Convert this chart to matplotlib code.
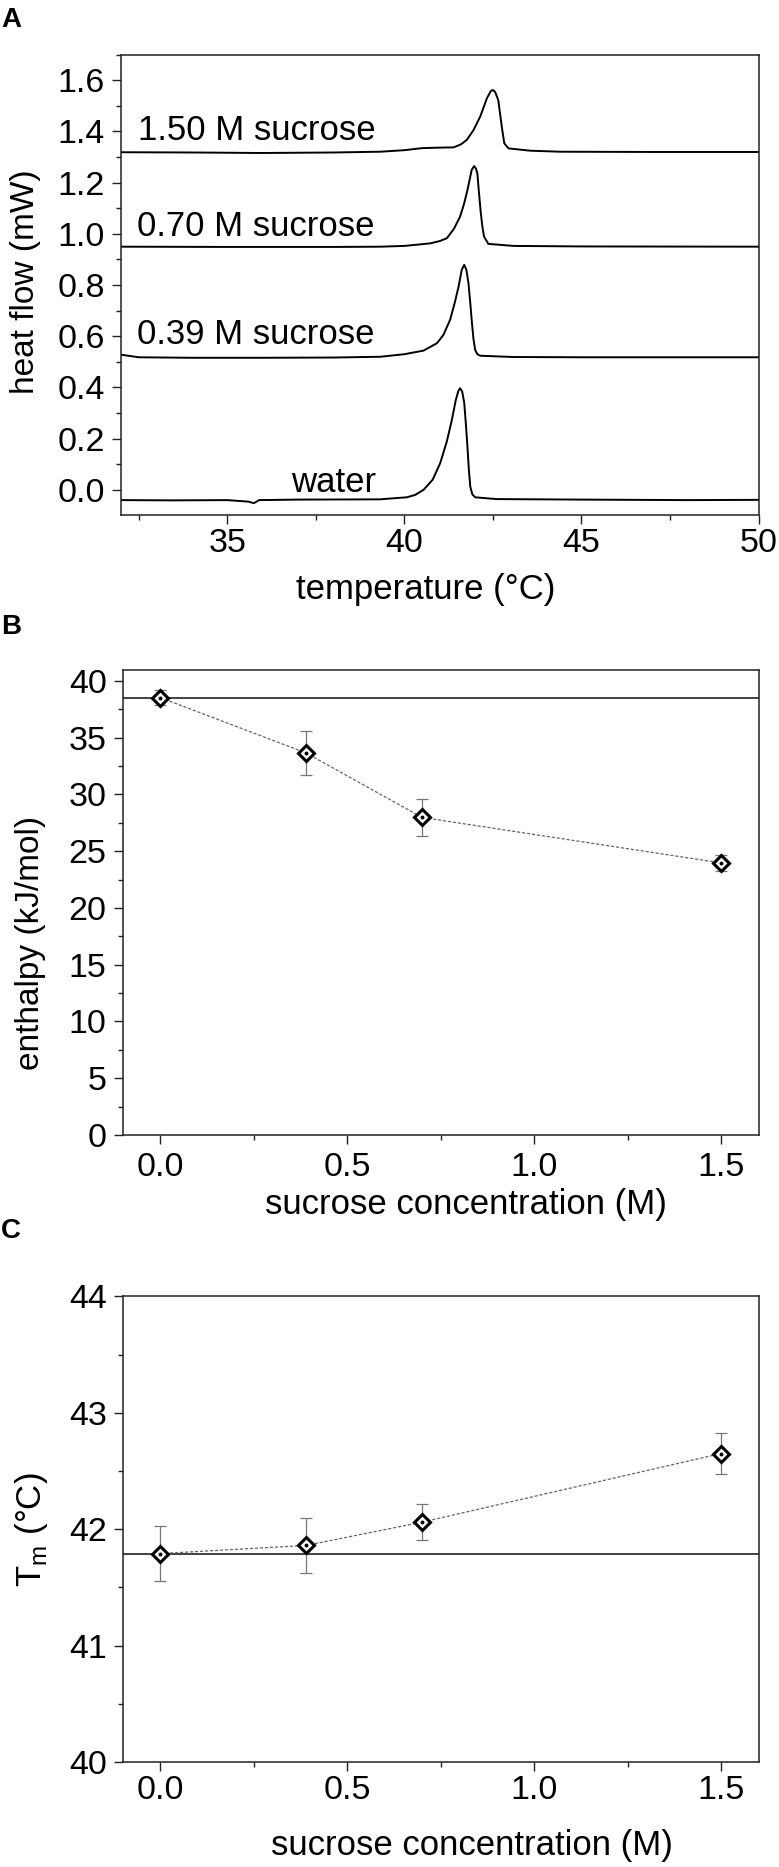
import numpy as np
import matplotlib
matplotlib.use("Agg")
import matplotlib.pyplot as plt
from matplotlib.ticker import MultipleLocator

plt.rcParams['font.family'] = ['Liberation Sans', 'DejaVu Sans']
plt.rcParams['mathtext.fontset'] = 'custom'
plt.rcParams['mathtext.rm'] = 'Liberation Sans'

# ---- panel A: DSC traces (temperature in C, heat flow in mW)
water_T = [32.0, 33.5, 35.0, 35.6, 35.75, 35.9, 37.0, 39.3, 40.07, 40.3, 40.54, 40.8, 41.01, 41.2,
           41.34, 41.45, 41.52, 41.57, 41.63, 41.69, 41.74, 41.78, 41.82, 41.86, 41.92, 42.0,
           42.6, 45.0, 48.0, 50.0]
water_H = [-0.040, -0.041, -0.040, -0.046, -0.052, -0.040, -0.038, -0.037, -0.029, -0.020, 0.000,
           0.040, 0.104, 0.190, 0.273, 0.350, 0.385, 0.397, 0.385, 0.340, 0.250, 0.169, 0.080,
           0.013, -0.018, -0.029, -0.036, -0.038, -0.040, -0.039]

suc039_T = [32.0, 32.5, 34.0, 36.0, 38.0, 39.32, 40.0, 40.54, 40.92, 41.1, 41.29, 41.42, 41.53,
            41.62, 41.69, 41.75, 41.81, 41.86, 41.90, 41.95, 42.0, 42.06, 42.14, 43.08, 45.0, 50.0]
suc039_H = [0.528, 0.518, 0.516, 0.516, 0.517, 0.520, 0.530, 0.544, 0.573, 0.605, 0.664, 0.730,
            0.794, 0.860, 0.879, 0.860, 0.807, 0.730, 0.664, 0.590, 0.546, 0.530, 0.524, 0.519,
            0.518, 0.518]

suc070_T = [32.0, 35.0, 38.0, 39.32, 40.0, 40.73, 41.0, 41.2, 41.4, 41.57, 41.68, 41.78, 41.9,
            41.97, 42.02, 42.06, 42.1, 42.15, 42.2, 42.25, 42.37, 43.08, 45.0, 50.0]
suc070_H = [0.950, 0.949, 0.949, 0.950, 0.953, 0.963, 0.972, 0.983, 1.020, 1.067, 1.115, 1.171,
            1.250, 1.265, 1.255, 1.237, 1.170, 1.093, 1.030, 0.989, 0.961, 0.953, 0.951, 0.950]

suc150_T = [32.0, 34.0, 36.0, 38.0, 39.32, 40.0, 40.5, 41.0, 41.39, 41.6, 41.76, 41.95, 42.14,
            42.33, 42.44, 42.5, 42.56, 42.65, 42.75, 42.82, 42.94, 43.55, 44.4, 47.0, 50.0]
suc150_H = [1.319, 1.318, 1.316, 1.318, 1.321, 1.327, 1.335, 1.337, 1.338, 1.350, 1.367, 1.405,
            1.458, 1.530, 1.558, 1.562, 1.555, 1.523, 1.419, 1.354, 1.334, 1.325, 1.321, 1.320,
            1.320]

trace_labels = ["water", "0.39 M sucrose", "0.70 M sucrose", "1.50 M sucrose"]

# ---- panels B and C
sucrose = [0.0, 0.39, 0.70, 1.50]
enthalpy = [38.54, 33.66, 27.98, 23.97]
enthalpy_err = [0.66, 1.95, 1.6, 0.68]
tm = [41.79, 41.86, 42.06, 42.65]
tm_err = [0.235, 0.235, 0.155, 0.175]

TICK_FS = 24.5
LABEL_FS = 25

W, H = 779, 1867
fig = plt.figure(figsize=(W / 100, H / 100), dpi=100)


def add_axes_px(left, top, right, bottom):
    return fig.add_axes([left / W, 1 - bottom / H, (right - left) / W, (bottom - top) / H])


def style_axes(ax, xpad):
    for s in ax.spines.values():
        s.set_linewidth(1.1)
        s.set_color('#222222')
    ax.tick_params(which='both', direction='out', top=False, right=False, labelsize=TICK_FS,
                   width=1.0, color='#222222')
    ax.tick_params(axis='x', pad=xpad)
    ax.tick_params(axis='y', pad=5)
    ax.tick_params(which='major', length=6.5)
    ax.tick_params(which='minor', length=3.8)


def px_text(x, y, s, **kw):
    fig.text(x / W, 1 - y / H, s, **kw)


# panel A
axA = add_axes_px(121, 54.7, 758.6, 514.7)
for T, Hf in [(water_T, water_H), (suc039_T, suc039_H), (suc070_T, suc070_H), (suc150_T, suc150_H)]:
    axA.plot(T, Hf, color='black', lw=1.4)
axA.set_xlim(32, 50)
axA.set_ylim(-0.097, 1.70)
axA.xaxis.set_major_locator(MultipleLocator(5))
axA.xaxis.set_minor_locator(MultipleLocator(2.5))
axA.yaxis.set_major_locator(MultipleLocator(0.2))
axA.yaxis.set_minor_locator(MultipleLocator(0.1))
axA.yaxis.set_major_formatter(plt.FormatStrFormatter('%.1f'))
style_axes(axA, 3)
axA.text(32.49, 1.367, trace_labels[3], fontsize=LABEL_FS, va='baseline', ha='left')
axA.text(32.45, 0.990, trace_labels[2], fontsize=LABEL_FS, va='baseline', ha='left')
axA.text(32.45, 0.568, trace_labels[1], fontsize=LABEL_FS, va='baseline', ha='left')
axA.text(39.2, -0.007, trace_labels[0], fontsize=LABEL_FS, va='baseline', ha='right')
px_text(26, 282, "heat flow (mW)", fontsize=24, rotation=90, ha='center', va='center')
px_text(426, 599, "temperature (°C)", fontsize=LABEL_FS, ha='center', va='baseline')
px_text(1, 7, "A", fontsize=20, fontweight='bold', ha='left', va='top')


def data_panel(ax, y, yerr, ref, xpad):
    ax.axhline(ref, color='#333333', lw=1.3, zorder=1)
    ax.plot(sucrose, y, color='#666666', lw=0.9, ls=(0, (2.5, 1.5)), zorder=2)
    ax.errorbar(sucrose, y, yerr=yerr, fmt='none', ecolor='#777777', elinewidth=0.9,
                capsize=4, capthick=0.9, zorder=3)
    ax.plot(sucrose, y, ls='none', marker='D', ms=8.5, mfc='white', mec='black', mew=2.2, zorder=4)
    ax.plot(sucrose, y, ls='none', marker='o', ms=1.8, color='black', zorder=5)
    ax.set_xlim(-0.1, 1.6)
    ax.xaxis.set_major_locator(MultipleLocator(0.5))
    ax.xaxis.set_minor_locator(MultipleLocator(0.25))
    ax.xaxis.set_major_formatter(plt.FormatStrFormatter('%.1f'))
    style_axes(ax, xpad)


# panel B
axB = add_axes_px(122.7, 669.6, 758.6, 1135)
data_panel(axB, enthalpy, enthalpy_err, enthalpy[0], 6)
axB.set_ylim(0, 41)
axB.yaxis.set_major_locator(MultipleLocator(5))
axB.yaxis.set_minor_locator(MultipleLocator(2.5))
px_text(31, 943, "enthalpy (kJ/mol)", fontsize=24, rotation=90, ha='center', va='center')
px_text(466, 1214, "sucrose concentration (M)", fontsize=LABEL_FS, ha='center', va='baseline')
px_text(1, 614, "B", fontsize=20, fontweight='bold', ha='left', va='top')

# panel C
axC = add_axes_px(122.7, 1296.4, 758.6, 1761.9)
data_panel(axC, tm, tm_err, tm[0], 3)
axC.set_ylim(40, 44)
axC.yaxis.set_major_locator(MultipleLocator(1))
axC.yaxis.set_minor_locator(MultipleLocator(0.5))
px_text(31, 1530, r"T$_{\mathrm{m}}$ (°C)", fontsize=LABEL_FS, rotation=90, ha='center', va='center')
px_text(472, 1855, "sucrose concentration (M)", fontsize=LABEL_FS, ha='center', va='baseline')
px_text(1, 1218, "C", fontsize=20, fontweight='bold', ha='left', va='top')

fig.savefig("out.png", dpi=100)
